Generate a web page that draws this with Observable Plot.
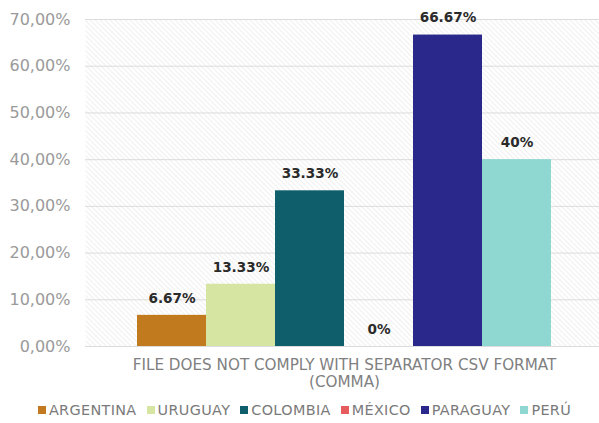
<!DOCTYPE html>
<html>
<head>
<meta charset="utf-8">
<script src="https://cdn.jsdelivr.net/npm/d3@7"></script>
<script src="https://cdn.jsdelivr.net/npm/@observablehq/plot@0.6"></script>
<style>
  html, body { margin: 0; padding: 0; background: #fff; }
  body { width: 599px; height: 423px; overflow: hidden; font-family: "DejaVu Sans", Verdana, sans-serif; }
  #legend { display: flex; justify-content: center; align-items: center; gap: 10px; height: 30px; font-size: 14.4px; color: #7a7a7a; letter-spacing: 0.35px; margin-left: 10px; }
  #legend .item { display: flex; align-items: center; gap: 3px; }
  #legend .sw { width: 8px; height: 8px; display: inline-block; }
</style>
</head>
<body>
<div id="chart"></div>
<div id="legend"></div>
<script>
// ---- data ----
const countries = ["ARGENTINA", "URUGUAY", "COLOMBIA", "MÉXICO", "PARAGUAY", "PERÚ"];
const values = [0.0667, 0.1333, 0.3333, 0, 0.6667, 0.40];
const valueLabels = ["6.67%", "13.33%", "33.33%", "0%", "66.67%", "40%"];
const colors = ["#C27A1F", "#D7E5A2", "#0F5E6B", "#E65B5E", "#2B288C", "#8FD8D2"];
const yTicks = [0, 0.1, 0.2, 0.3, 0.4, 0.5, 0.6, 0.7];
const categoryLabel = "FILE DOES NOT COMPLY WITH SEPARATOR CSV FORMAT\n(COMMA)";

const data = countries.map((c, i) => ({country: c, value: values[i], label: valueLabels[i]}));
const fmt = d => (d * 100).toFixed(2).replace(".", ",") + "%";

const chart = Plot.plot({
  width: 599,
  height: 395,
  marginLeft: 85,
  marginRight: 0,
  marginTop: 19,
  marginBottom: 49,
  style: {fontFamily: "'DejaVu Sans', Verdana, sans-serif", background: "#fff", overflow: "visible"},
  x: {domain: countries, range: [137, 551], padding: 0, axis: null},
  y: {domain: [0, 0.7], axis: null},
  color: {domain: countries, range: colors},
  marks: [
    Plot.frame({fill: "url(#hatch)", stroke: null}),
    Plot.ruleY(yTicks, {stroke: "#dcdcdc", strokeWidth: 1}),
    Plot.axisY({ticks: yTicks, tickSize: 0, tickPadding: 15, tickFormat: fmt, fontSize: 16, color: "#9a9a9a", label: null}),
    Plot.barY(data, {x: "country", y: "value", fill: "country"}),
    Plot.text(data, {x: "country", y: "value", text: "label", dy: -17, fontWeight: "bold", fontSize: 13.6, fill: "#2a2a2a"}),
    Plot.text([categoryLabel], {frameAnchor: "bottom", dx: 2, lineAnchor: "top", dy: 11.5, fontSize: 15.2, fill: "#808080", lineHeight: 1.1})
  ]
});

// hatch pattern for the plot background
const svg = d3.select(chart);
const defs = svg.insert("defs", ":first-child");
const pat = defs.append("pattern")
  .attr("id", "hatch")
  .attr("patternUnits", "userSpaceOnUse")
  .attr("width", 5).attr("height", 5);
pat.append("rect").attr("width", 5).attr("height", 5).attr("fill", "#ffffff");
pat.append("path")
  .attr("d", "M-1,4 l2,2 M0,0 l5,5 M4,-1 l2,2")
  .attr("stroke", "#e6e6e6").attr("stroke-width", 1);

document.getElementById("chart").appendChild(chart);

const legend = document.getElementById("legend");
countries.forEach((c, i) => {
  const item = document.createElement("span");
  item.className = "item";
  const sw = document.createElement("span");
  sw.className = "sw";
  sw.style.background = colors[i];
  const t = document.createElement("span");
  t.textContent = c;
  item.appendChild(sw);
  item.appendChild(t);
  legend.appendChild(item);
});
</script>
</body>
</html>
